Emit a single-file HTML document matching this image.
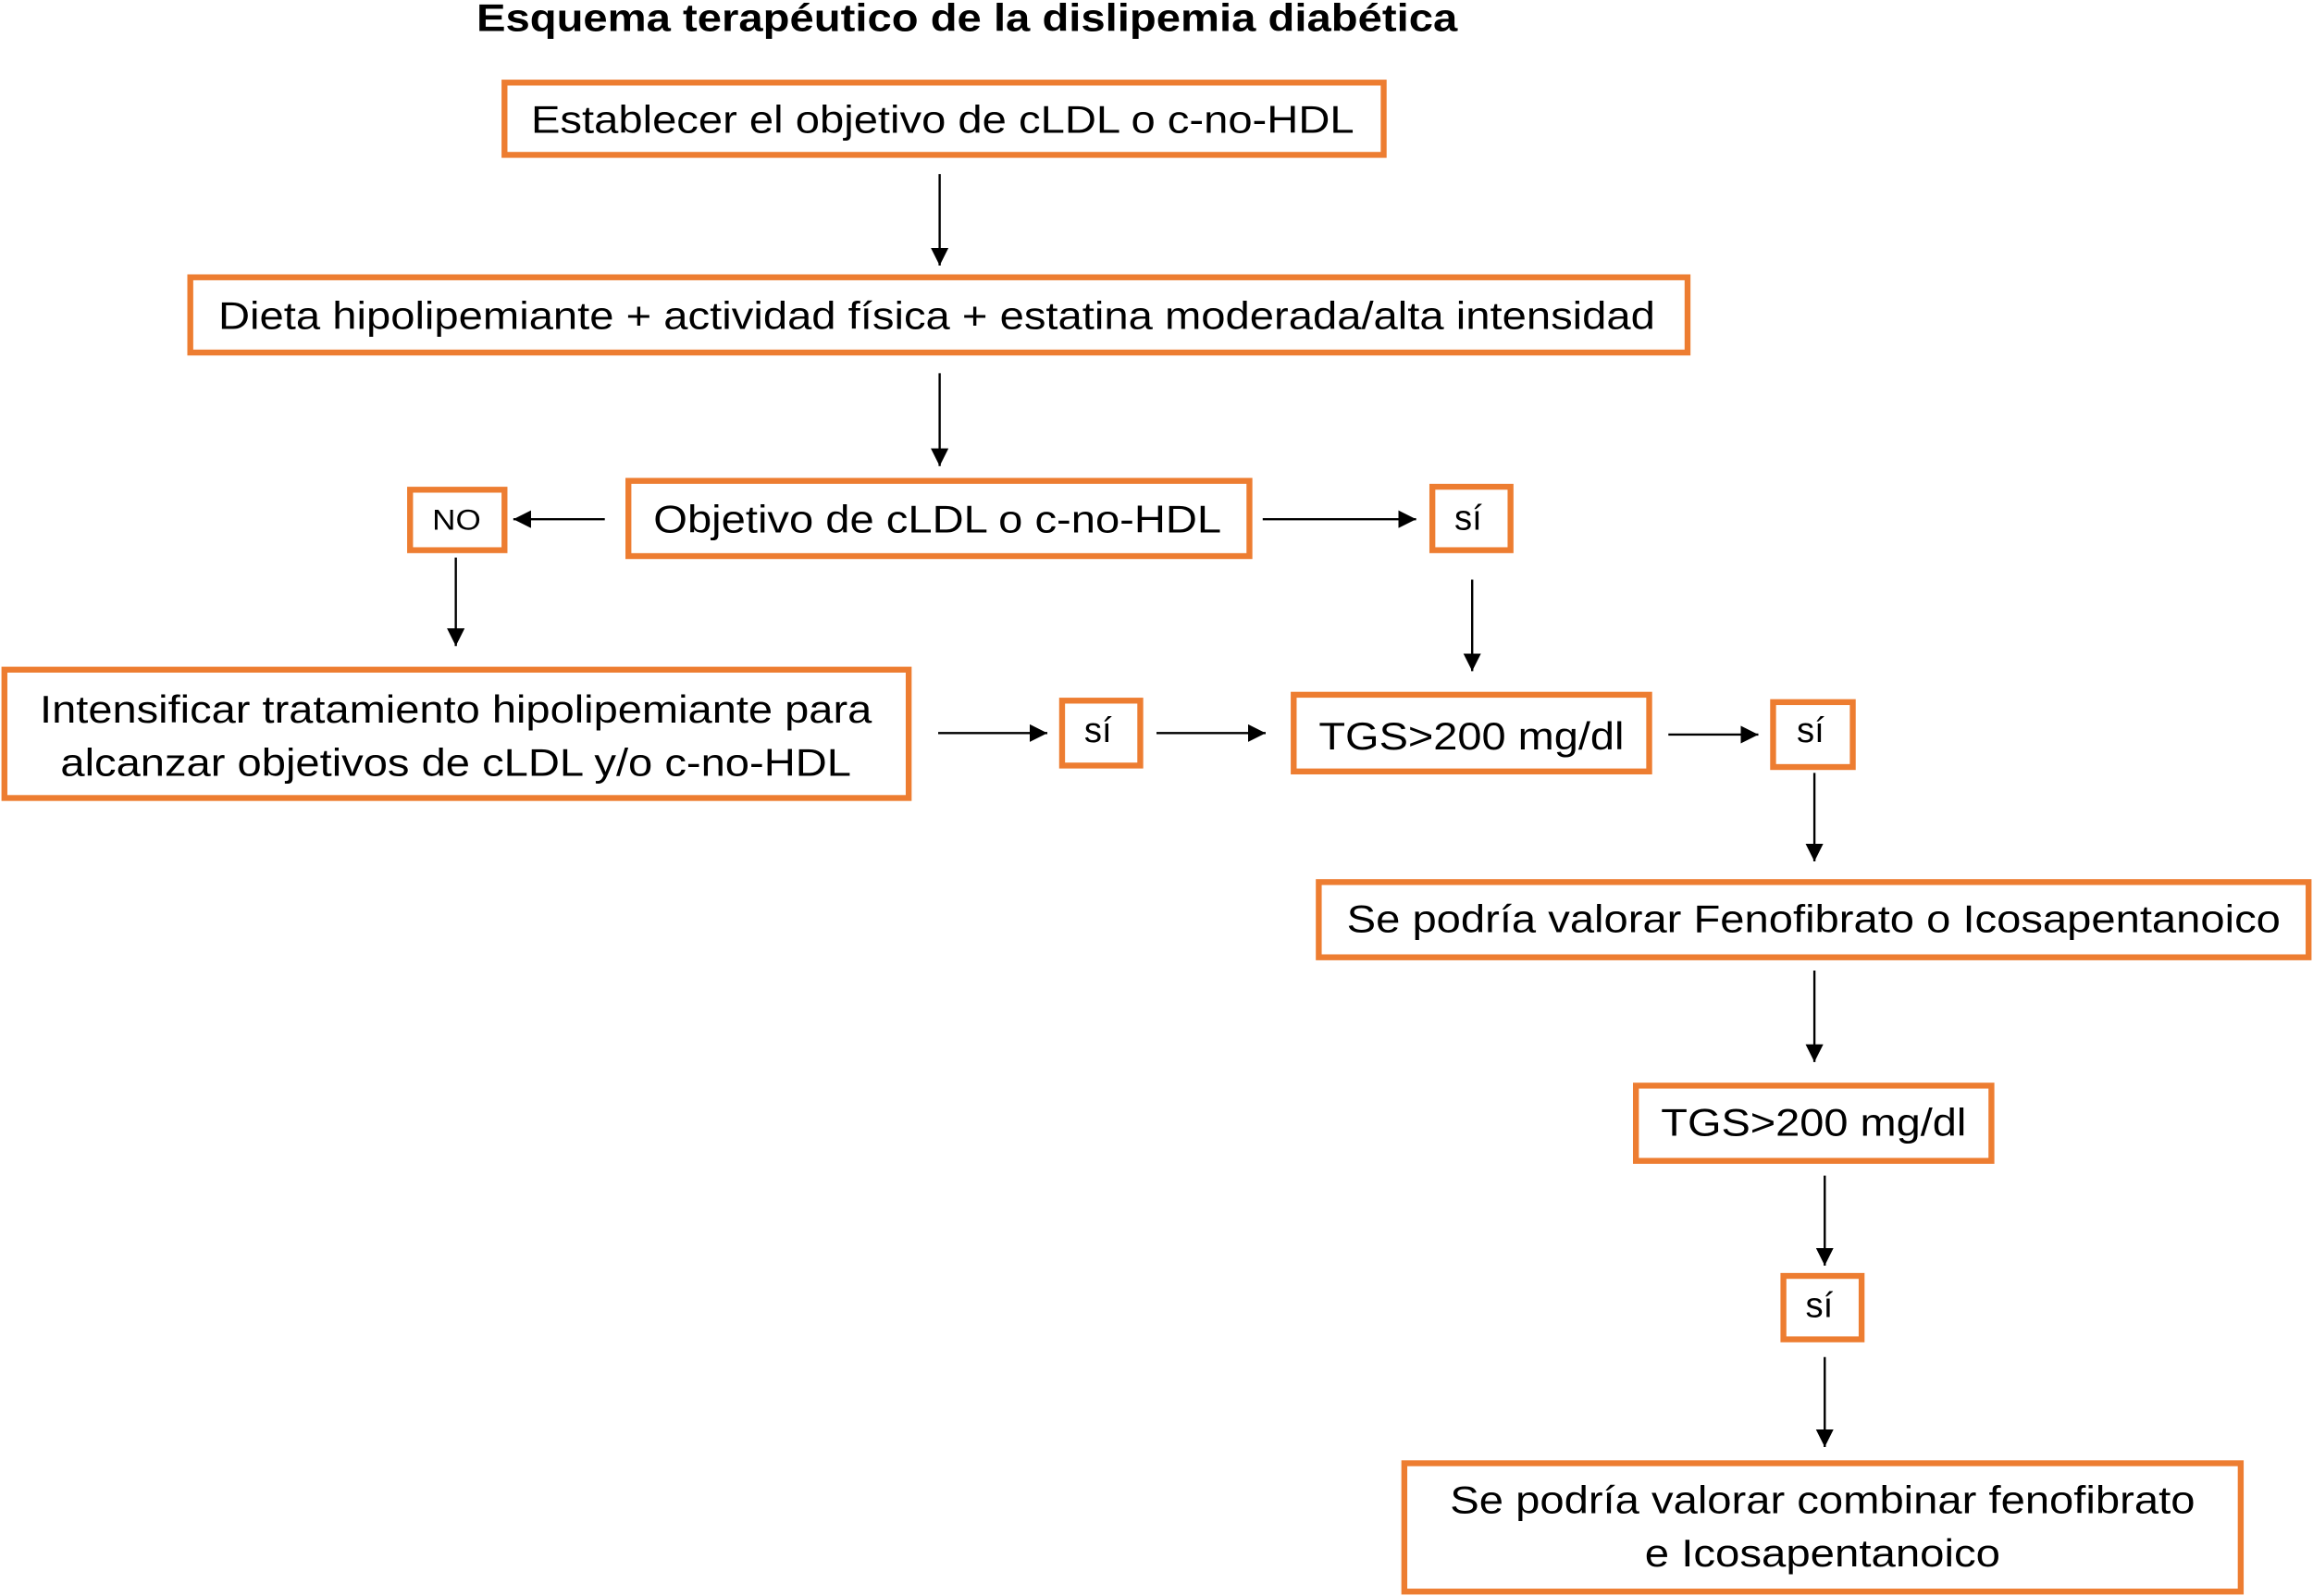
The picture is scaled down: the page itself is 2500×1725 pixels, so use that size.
<!DOCTYPE html>
<html><head><meta charset="utf-8"><style>html,body{margin:0;padding:0;background:#fff}svg{display:block}</style></head>
<body>
<svg width="2500" height="1725" viewBox="0 0 1568 1082" preserveAspectRatio="none" xmlns="http://www.w3.org/2000/svg">
<defs><marker id="a" viewBox="0 0 10 10" refX="10" refY="5" markerWidth="12" markerHeight="12" markerUnits="userSpaceOnUse" orient="auto"><path d="M0,0 L10,5 L0,10 z" fill="#000"/></marker></defs>
<g font-family="Liberation Sans, Arial, sans-serif" fill="#000">
<text x="323" y="21" font-size="26" font-weight="bold" textLength="665" lengthAdjust="spacingAndGlyphs">Esquema terapéutico de la dislipemia diabética</text>
<g fill="none" stroke="#ED7D31" stroke-width="4">
<rect x="342" y="56" width="596" height="49"/>
<rect x="129" y="188" width="1015" height="51"/>
<rect x="426" y="326" width="421" height="51"/>
<rect x="278" y="332" width="64" height="41"/>
<rect x="971" y="330" width="53" height="43"/>
<rect x="3" y="454" width="613" height="87"/>
<rect x="720" y="475" width="53" height="44"/>
<rect x="877" y="471" width="241" height="52"/>
<rect x="1202" y="476" width="54" height="44"/>
<rect x="894" y="598" width="671" height="51"/>
<rect x="1109" y="736" width="241" height="51"/>
<rect x="1209" y="865" width="53" height="43"/>
<rect x="952" y="992" width="567" height="87"/>
</g>
<g stroke="#000" stroke-width="1.5" marker-end="url(#a)">
<line x1="637" y1="118" x2="637" y2="180"/>
<line x1="637" y1="253" x2="637" y2="316"/>
<line x1="410" y1="352" x2="348" y2="352"/>
<line x1="856" y1="352" x2="960" y2="352"/>
<line x1="309" y1="378" x2="309" y2="438"/>
<line x1="998" y1="393" x2="998" y2="455"/>
<line x1="636" y1="497" x2="710" y2="497"/>
<line x1="784" y1="497" x2="858" y2="497"/>
<line x1="1131" y1="498" x2="1192" y2="498"/>
<line x1="1230" y1="524" x2="1230" y2="584"/>
<line x1="1230" y1="658" x2="1230" y2="720"/>
<line x1="1237" y1="797" x2="1237" y2="858"/>
<line x1="1237" y1="920" x2="1237" y2="981"/>
</g>
<g font-size="26">
<text x="360" y="90" textLength="558" lengthAdjust="spacingAndGlyphs">Establecer el objetivo de cLDL o c-no-HDL</text>
<text x="148" y="223" textLength="974" lengthAdjust="spacingAndGlyphs">Dieta hipolipemiante + actividad física + estatina moderada/alta intensidad</text>
<text x="443" y="361" textLength="385" lengthAdjust="spacingAndGlyphs">Objetivo de cLDL o c-no-HDL</text>
<text x="293" y="359" font-size="20" textLength="33" lengthAdjust="spacingAndGlyphs">NO</text>
<text x="986" y="359" font-size="24">sí</text>
<text x="27" y="490" textLength="564" lengthAdjust="spacingAndGlyphs">Intensificar tratamiento hipolipemiante para</text>
<text x="41" y="526" textLength="536" lengthAdjust="spacingAndGlyphs">alcanzar objetivos de cLDL y/o c-no-HDL</text>
<text x="735" y="503" font-size="24">sí</text>
<text x="894" y="508" textLength="207" lengthAdjust="spacingAndGlyphs">TGS&gt;200 mg/dl</text>
<text x="1218" y="503" font-size="24">sí</text>
<text x="913" y="632" textLength="633" lengthAdjust="spacingAndGlyphs">Se podría valorar Fenofibrato o Icosapentanoico</text>
<text x="1126" y="770" textLength="207" lengthAdjust="spacingAndGlyphs">TGS&gt;200 mg/dl</text>
<text x="1224" y="893" font-size="24">sí</text>
<text x="983" y="1026" textLength="505" lengthAdjust="spacingAndGlyphs">Se podría valorar combinar fenofibrato</text>
<text x="1115" y="1062" textLength="241" lengthAdjust="spacingAndGlyphs">e Icosapentanoico</text>
</g>
</g>
</svg>
</body></html>
